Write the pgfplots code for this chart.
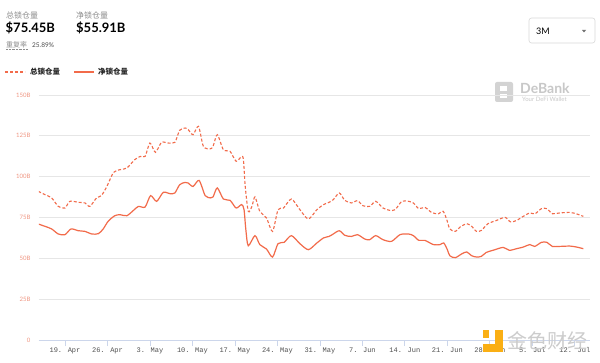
\documentclass[border=0pt]{standalone}
\usepackage{fontspec}
\setmainfont{Lato}
\newfontfamily\cjk{Noto Sans CJK SC}
\newfontfamily\mono{Liberation Mono}
\usepackage{pgfplots}
\pgfplotsset{compat=1.18}
\definecolor{lineC}{RGB}{242,107,74}
\definecolor{gridC}{RGB}{230,230,230}
\definecolor{axisC}{RGB}{204,214,235}
\definecolor{ylab}{RGB}{240,150,130}
\definecolor{xlab}{RGB}{80,80,80}
\definecolor{hdr}{RGB}{140,140,140}
\definecolor{wm}{RGB}{200,200,200}
\definecolor{jinse}{RGB}{250,175,20}

\pgfplotstableread{
d v
-4.4 91.0
-3.3 89.0
-2.2 87.0
-1.1 81.8
0.0 80.8
0.8 84.9
2.2 84.3
3.3 83.9
4.1 81.8
5.2 87.0
6.0 88.4
6.9 94.0
8.0 102.6
9.1 104.3
10.2 105.3
11.5 110.4
12.4 112.4
13.2 112.4
14.0 120.6
14.9 114.9
15.9 121.0
17.0 120.6
18.1 121.0
18.9 128.4
19.8 129.8
20.3 128.8
21.1 125.7
22.0 130.8
22.8 118.6
23.9 117.0
24.4 118.6
25.1 125.7
26.1 116.5
27.2 115.5
28.2 109.4
29.1 112.4
29.4 110.4
29.7 94.0
30.2 78.8
30.8 81.8
31.3 87.6
32.1 78.8
33.2 74.7
34.2 66.5
35.1 79.8
36.0 80.8
37.3 86.3
38.7 79.8
40.1 74.1
41.5 79.8
42.6 82.9
43.5 84.3
44.2 85.9
45.2 90.0
46.1 85.5
47.2 83.9
48.2 85.3
49.1 82.2
50.2 81.8
51.2 84.9
52.4 80.8
53.5 79.4
54.4 79.8
55.5 84.9
56.6 84.9
57.4 83.9
58.3 80.4
59.3 81.2
60.4 78.1
61.5 77.2
62.3 78.8
62.9 73.7
63.4 68.0
64.3 66.5
65.1 69.2
66.2 71.2
67.0 69.6
67.8 66.5
68.6 67.1
69.7 71.2
71.1 73.2
72.5 75.1
73.4 72.3
74.4 73.2
75.5 75.7
76.6 77.8
77.4 77.2
78.5 80.4
79.4 80.4
80.3 77.3
81.5 77.8
83.2 78.1
84.3 77.2
85.4 75.7
}\totaltvl

\pgfplotstableread{
d v
-4.4 71.0
-3.3 69.6
-2.2 68.0
-1.1 64.9
0.0 64.5
1.0 68.0
2.2 66.9
3.3 66.5
4.4 64.9
5.5 65.1
6.3 68.0
7.1 72.6
8.2 76.1
9.1 76.7
10.2 76.1
11.3 79.4
12.1 81.8
13.2 81.4
14.1 88.4
15.1 84.9
16.2 90.4
17.3 89.6
18.1 90.0
18.9 95.1
19.8 96.5
20.3 96.1
21.1 94.0
22.1 97.7
23.1 88.4
24.0 87.0
24.4 87.6
25.1 93.1
26.1 86.3
27.2 85.5
28.2 80.8
29.1 82.9
29.5 79.8
29.8 67.5
30.2 57.7
31.3 63.9
32.1 58.4
33.2 55.7
34.2 50.8
35.1 59.0
36.1 59.8
37.3 63.9
38.7 59.0
40.1 55.3
41.5 59.4
42.6 62.5
43.5 63.4
44.2 64.9
45.2 66.9
46.1 64.1
47.2 63.4
48.2 64.5
49.4 61.8
50.2 61.4
51.2 63.9
52.4 61.4
53.8 60.4
55.2 64.5
56.6 64.9
57.4 63.9
58.3 61.0
59.3 61.0
60.7 58.4
61.8 58.4
62.4 59.4
63.0 55.3
63.4 51.6
64.3 50.4
65.4 52.8
66.2 53.9
67.0 51.6
67.8 50.8
68.6 51.2
69.4 53.6
70.5 54.9
72.2 56.7
73.2 54.9
74.4 55.9
75.5 56.9
76.6 58.4
77.4 57.3
78.5 59.8
79.4 59.8
80.3 57.3
81.5 57.3
83.2 57.5
84.3 56.9
85.4 55.9
}\nettvl

\begin{document}
\begin{tikzpicture}
\useasboundingbox (0,0) rectangle (600pt,-363pt);
\fill[white] (0,0) rectangle (600pt,-363pt);

% header
\node[anchor=west, inner sep=0pt, text=hdr] at (6pt,-15pt) {\cjk\fontsize{8}{9}\selectfont 总锁仓量};
\node[anchor=west, inner sep=0pt] at (5.5pt,-28pt) {\fontsize{13}{14}\selectfont\bfseries \$75.45B};
\node[anchor=west, inner sep=0pt, text=hdr] at (76pt,-15pt) {\cjk\fontsize{8}{9}\selectfont 净锁仓量};
\node[anchor=west, inner sep=0pt] at (76pt,-28pt) {\fontsize{13}{14}\selectfont\bfseries \$55.91B};
\node[anchor=west, inner sep=0pt, text=hdr] at (6pt,-45pt) {\cjk\fontsize{7}{8}\selectfont 重复率};
\draw[hdr, densely dotted, line width=0.4pt] (6pt,-49pt) -- (28pt,-49pt);
\node[anchor=west, inner sep=0pt, text=black!70] at (32pt,-45pt) {\fontsize{6.5}{7}\selectfont 25.89\%};

% dropdown
\draw[black!15, rounded corners=2.5pt, line width=0.6pt] (529pt,-18pt) rectangle (595pt,-43pt);
\node[anchor=west, inner sep=0pt] at (536pt,-31pt) {\fontsize{9}{10}\selectfont 3M};
\fill[black!55] (582pt,-30pt) -- (586pt,-30pt) -- (584pt,-32.5pt) -- cycle;

% legend
\draw[lineC, line width=1.2pt, dash pattern=on 3pt off 2pt] (5pt,-72pt) -- (25pt,-72pt);
\node[anchor=west, inner sep=0pt, text=black!85] at (30pt,-72pt) {\cjk\bfseries\fontsize{7.5}{8}\selectfont 总锁仓量};
\draw[lineC, line width=1.2pt] (74pt,-72pt) -- (94pt,-72pt);
\node[anchor=west, inner sep=0pt, text=black!85] at (98pt,-72pt) {\cjk\bfseries\fontsize{7.5}{8}\selectfont 净锁仓量};

% DeBank watermark
\fill[wm!80, rounded corners=2pt] (495pt,-82pt) rectangle (513pt,-102pt);
\fill[white] (500pt,-86pt) rectangle (507pt,-91pt);
\fill[white] (500pt,-94pt) rectangle (507pt,-98pt);
\node[anchor=west, inner sep=0pt, text=wm] at (520pt,-88pt) {\fontsize{14}{15}\selectfont\bfseries DeBank};
\node[anchor=west, inner sep=0pt, text=wm] at (522pt,-99pt) {\fontsize{6}{7}\selectfont Your DeFi Wallet};

\begin{axis}[
  at={(39pt,-340pt)}, anchor=south west,
  scale only axis, width=551pt, height=245pt,
  xmin=-4.28, xmax=86.5, ymin=0, ymax=150,
  separate axis lines,
  axis x line*=bottom, axis y line*=left,
  x axis line style={axisC, line width=0.9pt, -},
  y axis line style={draw=none},
  ytick={0,25,50,75,100,125,150},
  yticklabels={0,25B,50B,75B,100B,125B,150B},
  xtick={0,7,14,21,28,35,42,49,56,63,70,77,84},
  xticklabels={19. Apr,26. Apr,3. May,10. May,17. May,24. May,31. May,7. Jun,14. Jun,21. Jun,28. Jun,5. Jul,12. Jul},
  ymajorgrids, major grid style={gridC, line width=0.7pt},
  ytick style={draw=none},
  xtick style={axisC, line width=0.8pt},
  xtick align=outside, major tick length=6pt,
  yticklabel style={font=\fontsize{6}{7}\selectfont, text=ylab, xshift=-5pt},
  xticklabel style={font=\mono\fontsize{7}{8}\selectfont, text=xlab, yshift=2pt},
]
\addplot[lineC, line width=1.1pt, dash pattern=on 3pt off 2pt, smooth, tension=0.45] table[x=d, y=v] {\totaltvl};
\addplot[lineC, line width=1.2pt, smooth, tension=0.45] table[x=d, y=v] {\nettvl};
\end{axis}

% Jinse watermark
\fill[jinse] (483pt,-330pt) rectangle (489pt,-338pt);
\fill[jinse] (483pt,-344pt) rectangle (503pt,-352pt);
\fill[jinse] (495pt,-330pt) rectangle (503pt,-352pt);
\node[anchor=west, inner sep=0pt, text=black!20] at (507pt,-341pt) {\cjk\fontsize{20}{22}\selectfont 金色财经};
\end{tikzpicture}
\end{document}
